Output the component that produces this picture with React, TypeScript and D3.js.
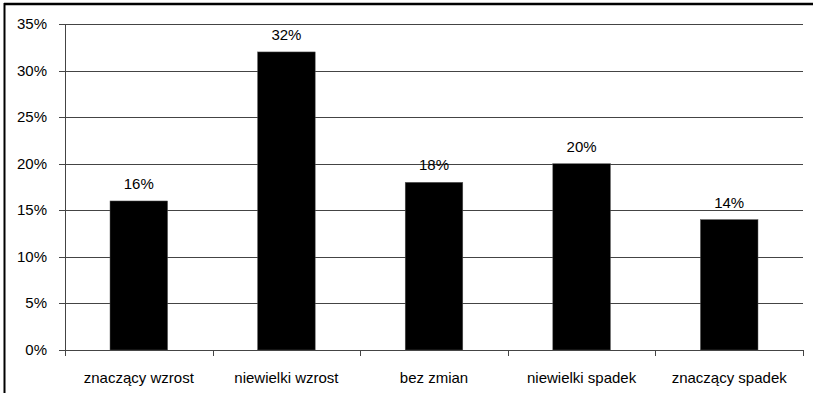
import React from "react";
import * as d3 from "d3";

const categories = ["znaczący wzrost", "niewielki wzrost", "bez zmian", "niewielki spadek", "znaczący spadek"];
const values = [16, 32, 18, 20, 14];
const yTicks = [0, 5, 10, 15, 20, 25, 30, 35];

export default function App() {
  const W = 813, H = 393;
  const left = 65, right = 803, top = 24, bottom = 350;
  const x = d3.scaleBand<string>().domain(categories).range([left, right]).paddingInner(0.61).paddingOuter(0.305);
  const xOuter = d3.scaleBand<string>().domain(categories).range([left, right]);
  const y = d3.scaleLinear().domain([0, 35]).range([bottom, top]);
  const font = "'Liberation Sans', Arial, sans-serif";
  return (
    <svg width={W} height={H} style={{ position: "absolute", left: 0, top: 0, background: "#fff" }}>
      <rect x={0} y={0} width={W} height={H} fill="#fff" />
      <line x1={4.5} x2={4.5} y1={3} y2={H} stroke="#000" strokeWidth={2} />
      <line x1={4} x2={W} y1={4} y2={4} stroke="#000" strokeWidth={2.5} />
      {yTicks.map((t) => (
        <g key={t}>
          <line x1={left - 6} x2={right} y1={Math.round(y(t)) + 0.5} y2={Math.round(y(t)) + 0.5} stroke="#444" strokeWidth={1} />
          <text x={47} y={y(t) + 5} textAnchor="end" fontFamily={font} fontSize={15} fill="#000">{t}%</text>
        </g>
      ))}
      <line x1={left + 0.5} x2={left + 0.5} y1={top} y2={bottom + 6} stroke="#444" strokeWidth={1} />
      {categories.map((c, i) => (
        <line key={"t" + i} x1={Math.round((xOuter(c) as number) + xOuter.bandwidth()) + 0.5} x2={Math.round((xOuter(c) as number) + xOuter.bandwidth()) + 0.5} y1={bottom} y2={bottom + 6} stroke="#444" strokeWidth={1} />
      ))}
      {categories.map((c, i) => (
        <g key={c}>
          <rect x={x(c)} y={y(values[i])} width={x.bandwidth()} height={bottom - y(values[i])} fill="#000" stroke="#555" strokeWidth={0.5} />
          <text x={(x(c) as number) + x.bandwidth() / 2} y={y(values[i]) - 12} textAnchor="middle" fontFamily={font} fontSize={15} fill="#000">{values[i]}%</text>
          <text x={(xOuter(c) as number) + xOuter.bandwidth() / 2} y={383} textAnchor="middle" fontFamily={font} fontSize={15} fill="#000">{c}</text>
        </g>
      ))}
    </svg>
  );
}
